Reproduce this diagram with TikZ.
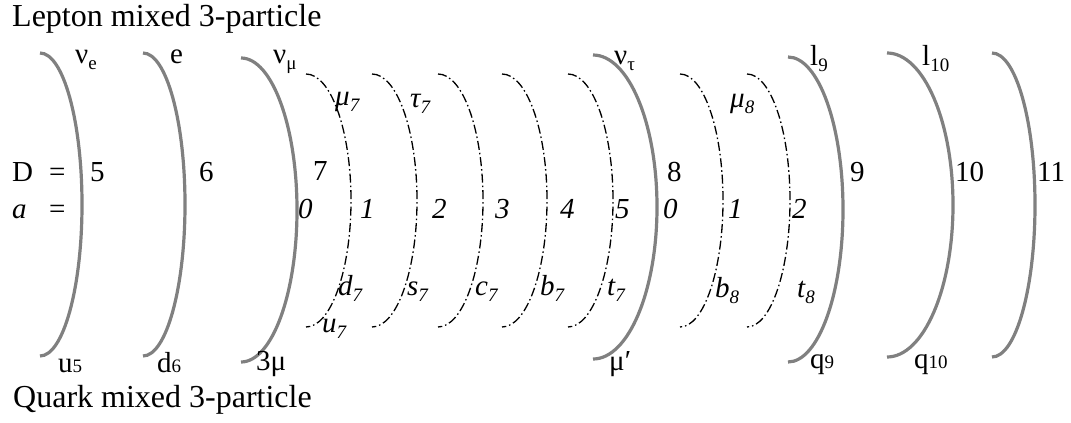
\documentclass[tikz,border=0pt]{standalone}
\usepackage{fontspec}
\setmainfont{Liberation Serif}
\definecolor{arcgray}{RGB}{128,128,128}
\newcommand\lsub[1]{\raisebox{-0.24em}{\fontsize{19}{19}\selectfont #1}}
\newcommand\bsub[1]{{\fontsize{19}{19}\selectfont #1}}
\tikzset{
  garc/.style={draw=arcgray, line width=3.2pt},
  darc/.style={draw=black, line width=1.3pt, dash pattern=on 9pt off 3pt on 1.5pt off 3pt},
  lab/.style={anchor=base west, inner sep=0pt, font=\fontsize{29}{34}\selectfont},
  ilab/.style={anchor=base west, inner sep=0pt, font=\fontsize{29}{34}\selectfont\itshape},
  ttl/.style={anchor=base west, inner sep=0pt, font=\fontsize{32}{38}\selectfont},
}
\begin{document}
\begin{tikzpicture}[x=1pt,y=-1pt]
\useasboundingbox (0,0) rectangle (1071,423);
% gray arcs
\draw[garc] (40,53) arc[start angle=90,end angle=-90,x radius=42pt,y radius=151.5pt];
\draw[garc] (143,53) arc[start angle=90,end angle=-90,x radius=42pt,y radius=151.5pt];
\draw[garc] (241,58) arc[start angle=90,end angle=-90,x radius=56pt,y radius=152pt];
\draw[garc] (593,55) arc[start angle=90,end angle=-90,x radius=64pt,y radius=152pt];
\draw[garc] (788,57) arc[start angle=90,end angle=-90,x radius=55pt,y radius=152.5pt];
\draw[garc] (887,53) arc[start angle=90,end angle=-90,x radius=66pt,y radius=152pt];
\draw[garc] (992,53) arc[start angle=90,end angle=-90,x radius=43pt,y radius=152pt];
% dash-dot arcs
\foreach \xx/\rr in {306/45,372/45,438/45,502/45,568/45,680/43,747/43}
  \draw[darc] (\xx,74) arc[start angle=90,end angle=-90,x radius=\rr pt,y radius=126.5pt];
% titles
\node[ttl] (lt) at (12,27) {Lepton mixed 3-particle};
\node[ttl] (qt) at (13,407) {Quark mixed 3-particle};
% top labels
\node[lab] (ne) at (75,63) {ν\lsub{e}};
\node[lab] (e) at (170,63) {e};
\node[lab] (nm) at (273,63) {ν\lsub{μ}};
\node[lab] (nt) at (614,64) {ν\lsub{τ}};
\node[lab] (l9) at (810,65) {l\lsub{9}};
\node[lab] (l10) at (922,65) {l\lsub{10}};
% bottom labels
\node[lab] (u5) at (58,372) {u\bsub{5}};
\node[lab] (d6) at (157,372) {d\bsub{6}};
\node[lab] (m3) at (256,370) {3μ};
\node[lab] (mp) at (609,370) {μ′};
\node[lab] (q9) at (810,368) {q\bsub{9}};
\node[lab] (q10) at (914,368) {q\bsub{10}};
% D row
\node[lab] (D) at (12,181) {D};
\node[lab] (eq1) at (49,181) {=};
\node[lab] (D5) at (90,181) {5};
\node[lab] (D6) at (199,181) {6};
\node[lab] (D7) at (313,180) {7};
\node[lab] (D8) at (667,181) {8};
\node[lab] (D9) at (850,181) {9};
\node[lab] (D10) at (955,181) {10};
\node[lab] (D11) at (1037,181) {11};
% a row
\node[ilab] (a) at (12,218) {a};
\node[lab] (eq2) at (49,218) {=};
\node[ilab] (a0) at (298,218) {0};
\node[ilab] (a1) at (360,218) {1};
\node[ilab] (a2) at (432,218) {2};
\node[ilab] (a3) at (495,218) {3};
\node[ilab] (a4) at (560,218) {4};
\node[ilab] (a5) at (615,218) {5};
\node[ilab] (b0) at (663,218) {0};
\node[ilab] (b1) at (728,218) {1};
\node[ilab] (b2) at (792,218) {2};
% dashed-arc labels
\node[ilab] (m7) at (335,105) {μ\lsub{7}};
\node[ilab] (t7a) at (410,107) {τ\lsub{7}};
\node[ilab] (m8) at (730,107) {μ\lsub{8}};
\node[ilab] (d7) at (338,295) {d\lsub{7}};
\node[ilab] (s7) at (407,295) {s\lsub{7}};
\node[ilab] (c7) at (475,295) {c\lsub{7}};
\node[ilab] (b7) at (540,295) {b\lsub{7}};
\node[ilab] (t7) at (607,295) {t\lsub{7}};
\node[ilab] (u7) at (322,332) {u\lsub{7}};
\node[ilab] (b8) at (715,297) {b\lsub{8}};
\node[ilab] (t8) at (797,297) {t\lsub{8}};
\end{tikzpicture}
\end{document}
